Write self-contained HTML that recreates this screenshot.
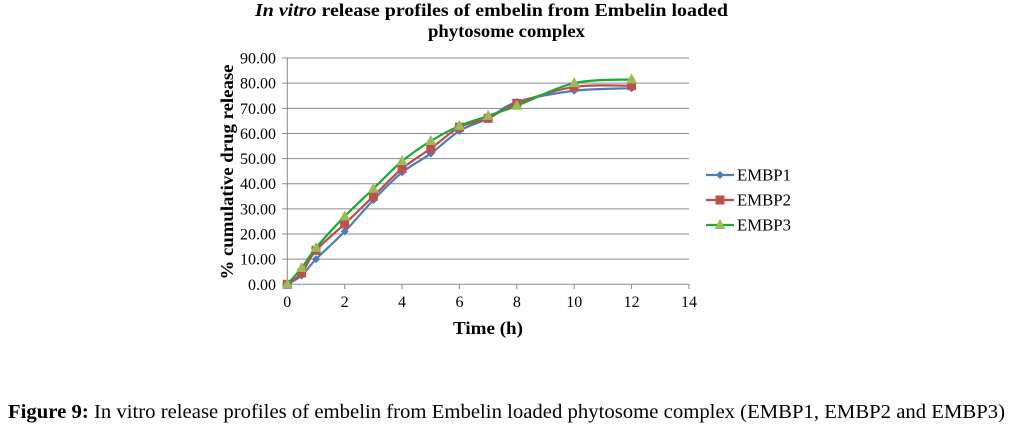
<!DOCTYPE html>
<html><head><meta charset="utf-8"><style>
body{margin:0;background:#fff;width:1011px;height:437px;overflow:hidden}
svg{position:absolute;left:0;top:0}
</style></head><body>
<svg id="s" width="1011" height="437" xmlns="http://www.w3.org/2000/svg" font-family="Liberation Serif, serif">
<text x="255" y="16" font-size="18" font-weight="bold" textLength="473" lengthAdjust="spacingAndGlyphs"><tspan font-style="italic">In vitro</tspan> release profiles of embelin from Embelin loaded</text>
<text x="428" y="37" font-size="18" font-weight="bold" textLength="157" lengthAdjust="spacingAndGlyphs">phytosome complex</text>
<g id="grid"></g>
<text transform="translate(233,172) rotate(-90)" text-anchor="middle" font-size="18" font-weight="bold" textLength="215" lengthAdjust="spacingAndGlyphs">% cumulative drug release</text>
<text x="453" y="334" font-size="18" font-weight="bold" textLength="70" lengthAdjust="spacingAndGlyphs">Time (h)</text>
<g id="series"></g>
<text x="8" y="418" font-size="20" textLength="997" lengthAdjust="spacingAndGlyphs"><tspan font-weight="bold">Figure 9:</tspan> In vitro release profiles of embelin from Embelin loaded phytosome complex (EMBP1, EMBP2 and EMBP3)</text>
</svg>
<script>
var NS="http://www.w3.org/2000/svg";
function X(t){return 287.3+28.69*t}
function Y(v){return 284.3-2.514*v}
function el(tag,a,p,txt){var e=document.createElementNS(NS,tag);for(var k in a)e.setAttribute(k,a[k]);if(txt!=null)e.textContent=txt;p.appendChild(e);return e}
var g=document.getElementById('grid');
for(var i=0;i<=9;i++){var y=Y(i*10);
 el('line',{x1:282,x2:689,y1:y,y2:y,stroke:'#8c8c8c','stroke-width':1},g);
 el('text',{x:276,y:y+5.5,'text-anchor':'end','font-size':16},g,(i*10).toFixed(2));}
el('line',{x1:287.3,x2:287.3,y1:Y(90),y2:Y(0)+4,stroke:'#888'},g);
for(var t=0;t<=14;t+=2){el('line',{x1:X(t),x2:X(t),y1:284,y2:289,stroke:'#888'},g);
 el('text',{x:X(t),y:307,'text-anchor':'middle','font-size':16},g,t);}
var T=[0,0.5,1,2,3,4,5,6,7,8,10,12];
var S=[
 {n:'EMBP1',c:'#4a7ebb',m:'d',v:[0,3.5,10,21,33.5,44.5,52,61,66,72.5,77,78]},
 {n:'EMBP2',c:'#be4b48',m:'s',v:[0,4.5,13.5,24,35,46,54,62.5,66,72,78.5,79]},
 {n:'EMBP3',c:'#1aa83a',m:'t',v:[0,6.5,14.5,27,38,49,57,63,67,71,80,81.5]}];
var sg=document.getElementById('series');
function mark(m,x,y,p){
 if(m=='d')el('polygon',{points:(x)+','+(y-4)+' '+(x+4)+','+y+' '+x+','+(y+4)+' '+(x-4)+','+y,fill:'#4a7ebb'},p);
 else if(m=='s')el('rect',{x:x-4.5,y:y-4.5,width:9,height:9,fill:'#c0504d'},p);
 else el('polygon',{points:x+','+(y-6)+' '+(x+5.5)+','+(y+4)+' '+(x-5.5)+','+(y+4),fill:'#9bbb59'},p);}
S.forEach(function(s,k){
 var pts=T.map(function(t,i){return [X(t),Y(s.v[i])]});
 var d='M'+pts[0];
 for(var i=0;i<pts.length-1;i++){var p0=pts[i-1]||pts[i],p1=pts[i],p2=pts[i+1],p3=pts[i+2]||p2;
  var c1=[p1[0]+(p2[0]-p0[0])/6,p1[1]+(p2[1]-p0[1])/6],c2=[p2[0]-(p3[0]-p1[0])/6,p2[1]-(p3[1]-p1[1])/6];
  d+=' C'+c1+' '+c2+' '+p2;}
 el('path',{d:d,fill:'none',stroke:s.c,'stroke-width':2.2},sg);
 pts.forEach(function(p){mark(s.m,p[0],p[1],sg)});
 var ly=175+k*25;
 el('line',{x1:706,x2:734,y1:ly,y2:ly,stroke:s.c,'stroke-width':2.2},sg);
 mark(s.m,720,ly,sg);
 el('text',{x:737,y:ly+5.5,'font-size':17,textLength:54,lengthAdjust:'spacingAndGlyphs'},sg,s.n);
});
</script>
</body></html>
